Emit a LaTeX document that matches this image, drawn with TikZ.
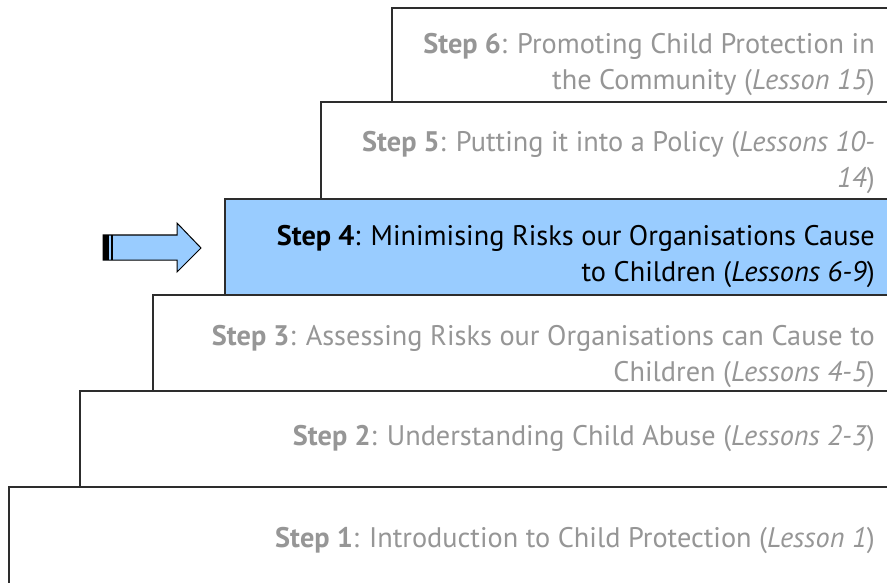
\documentclass[tikz,border=0pt]{standalone}
\usepackage{fontspec}
\setmainfont{PT Sans}
\usepackage{tikz}

\definecolor{stepblue}{RGB}{153,204,255}
\definecolor{stepgray}{RGB}{150,150,150}
\definecolor{edgegray}{RGB}{45,45,45}

\begin{document}
\begin{tikzpicture}[x=1pt,y=-1pt,
    stepbox/.style={draw=edgegray, line width=1.3pt, fill=white},
    steptext/.style={anchor=base east, align=right, inner sep=0pt,
      text=stepgray, font=\fontsize{28.3}{36}\selectfont},
    arrowbody/.style={draw=black, line width=1pt, fill=stepblue}]
            \useasboundingbox (0,0) rectangle (887,583);
            \clip (0,0) rectangle (887,583);

            % Draw the steps, top down
            \draw[stepbox] (392,8) rectangle (900,102);
            \draw[stepbox] (321,102) rectangle (900,199);
            \draw[stepbox, fill=stepblue] (225,199) rectangle (900,295);
            \draw[stepbox] (153,295) rectangle (900,391);
            \draw[stepbox] (80,391) rectangle (900,487);
            \draw[stepbox] (9,487) rectangle (900,600);

            % Label the steps (base = last line)
            \node[steptext] (step6) at (875,90)
              {\textbf{Step 6}: Promoting Child Protection in\\the Community (\textit{Lesson 15})};
            \node[steptext] (step5) at (875,188)
              {\textbf{Step 5}: Putting it into a Policy (\textit{Lessons 10-}\\\textit{14})};
            \node[steptext, text=black] (step4) at (875,281)
              {\textbf{Step 4}: Minimising Risks our Organisations Cause\\to Children (\textit{Lessons 6-9})};
            \node[steptext] (step3) at (875,381)
              {\textbf{Step 3}: Assessing Risks our Organisations can Cause to\\Children (\textit{Lessons 4-5})};
            \node[steptext] (step2) at (875,445)
              {\textbf{Step 2}: Understanding Child Abuse (\textit{Lessons 2-3})};
            \node[steptext] (step1) at (875,547)
              {\textbf{Step 1}: Introduction to Child Protection (\textit{Lesson 1})};

            % Draw the striped arrow pointing at step 4
            \draw[arrowbody] (103,235) -- (177,235) -- (177,223) -- (201,248)
              -- (177,272) -- (177,260) -- (103,260) -- cycle;
            \fill[black] (103,235) rectangle (109,260);
            \fill[black] (111,235) rectangle (113,260);
\end{tikzpicture}
\end{document}
